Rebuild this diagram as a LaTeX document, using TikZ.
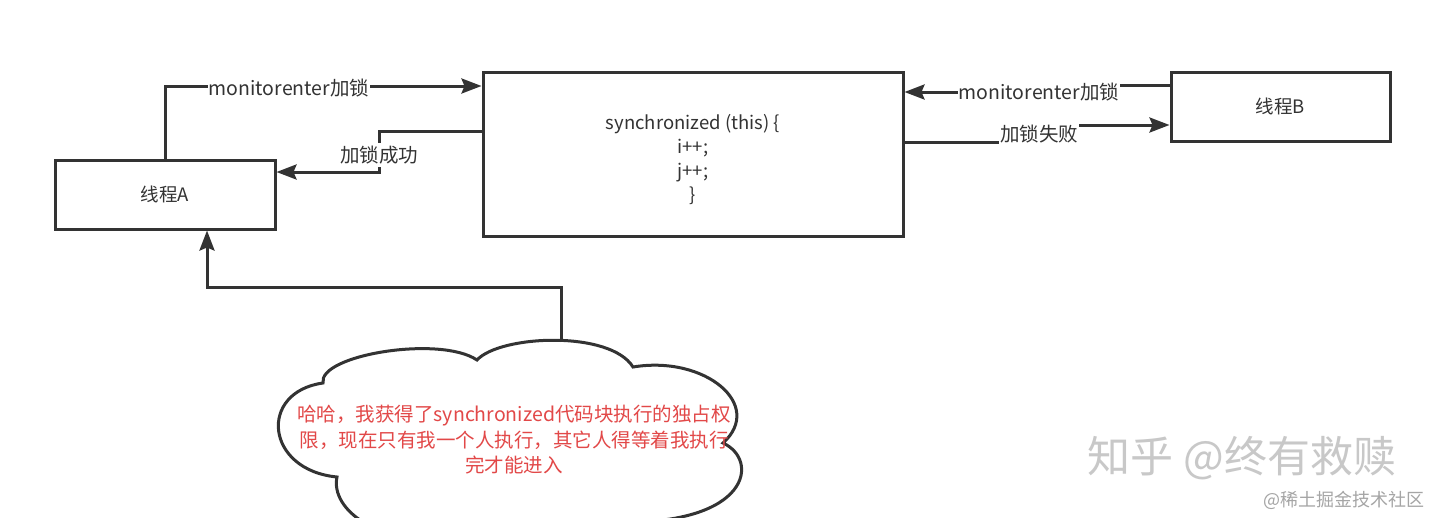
\documentclass[tikz,border=0pt]{standalone}
\usepackage{fontspec}
\setmainfont{Noto Sans CJK SC}
\usetikzlibrary{arrows.meta,calc}
\definecolor{ink}{RGB}{51,51,51}
\definecolor{redtxt}{RGB}{226,72,72}
\definecolor{wm}{RGB}{200,200,200}
\definecolor{wmb}{RGB}{165,165,165}
\begin{document}
\begin{tikzpicture}[x=1pt,y=-1pt,
  box/.style={draw=ink,line width=3pt,fill=white,inner sep=0pt,align=center,text=ink,font=\fontsize{18.5}{24}\selectfont},
  conn/.style={draw=ink,line width=3pt},
  arr/.style={conn,-{Stealth[length=20pt,width=15pt,inset=3pt]}},
  lbl/.style={fill=white,inner xsep=1pt,inner ysep=3pt,text=ink,font=\fontsize{19.5}{22}\selectfont}
]
\useasboundingbox[fill=white] (0,0) rectangle (1431,517);

% boxes
\node[box,minimum width=220pt,minimum height=69pt] (A) at (165,194.5) {线程A};
\node[box,minimum width=420pt,minimum height=164pt] (S) at (693,154) {\rule{0pt}{27pt}synchronized (this) \{\\ i++;\\ j++;\\ \}};
\node[box,minimum width=219pt,minimum height=69pt] (B) at (1280.5,106.5) {线程B};

% cloud
\coordinate (cl) at (561,342);
\draw[ink,line width=3pt,fill=white]
  (323,383) .. controls (318,355) and (440,335) .. (477,360)
  .. controls (500,335) and (610,330) .. (633,367)
  .. controls (705,355) and (765,405) .. (723,443)
  .. controls (760,460) and (750,525) .. (618,522)
  .. controls (580,545) and (480,550) .. (440,535)
  .. controls (380,545) and (330,510) .. (337,477)
  .. controls (265,470) and (258,392) .. (323,383) -- cycle;
\node[text=redtxt,align=center,inner sep=0pt,font=\fontsize{19.5}{25.5}\selectfont] (ct) at (514,440)
  {哈哈，我获得了synchronized代码块执行的独占权\\限，现在只有我一个人执行，其它人得等着我执行\\完才能进入};

% connector A -> S (monitorenter)
\draw[arr] (A.north) |- (S.west |- 0,86);
\node[lbl] (l1) at (289,88) {monitorenter加锁};

% S -> A (加锁成功)
\draw[arr] (S.west |- 0,131) -| (379,172) -- (A.east |- 0,172);
\node[lbl] (l2) at (379,155) {加锁成功};

% B -> S (monitorenter)
\draw[arr] (B.west |- 0,85) -- (1039,85) -- (1039,92) -- (S.east |- 0,92);
\node[lbl] (l3) at (1039,92) {monitorenter加锁};

% S -> B (加锁失败)
\draw[arr] (S.east |- 0,142) -- (1039,142) -- (1039,125) -- (B.west |- 0,125);
\node[lbl] (l4) at (1039,134) {加锁失败};

% cloud -> A
\draw[arr] (cl) -- (561,287) -| ([xshift=42pt]A.south);

% watermarks
\node[text=wm,inner sep=0pt,font=\fontsize{43}{46}\selectfont] (w1) at (1242,458) {知乎 @终有救赎};
\node[text=wmb,inner sep=0pt,font=\fontsize{18}{20}\selectfont,anchor=east] (w2) at (1425,500) {@稀土掘金技术社区};
\end{tikzpicture}
\end{document}
